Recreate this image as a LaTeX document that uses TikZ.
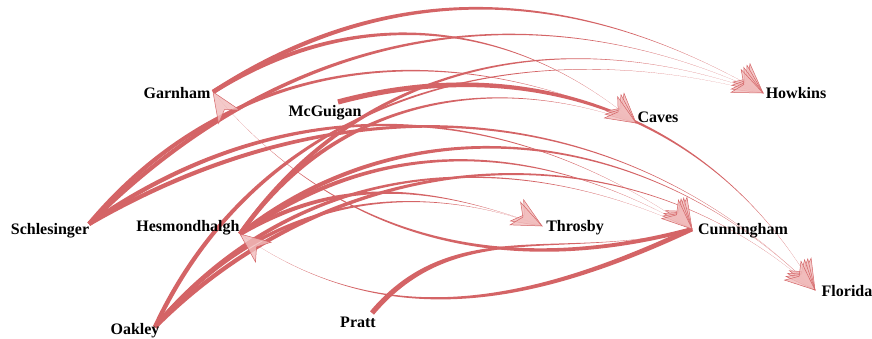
\documentclass[tikz,border=0pt]{standalone}
\usepackage{fontspec}
\setmainfont{Liberation Serif}
\usetikzlibrary{calc}
\definecolor{edgecol}{RGB}{212,100,102}
\definecolor{headfill}{RGB}{241,188,188}
\newcommand{\tedge}[5]{%
  \fill[edgest] ($(#1)+({#3+90}:#5)$) to[out=#3,in=#4] (#2) to[out=#4,in=#3] ($(#1)+({#3-90}:#5)$) -- cycle;}
\newcommand{\thead}[2]{%
  \filldraw[headst] (#1) -- ($(#1)+({#2+23}:32)$) -- ($(#1)+(#2:21)$) -- ($(#1)+({#2-23}:32)$) -- cycle;}
\begin{document}
\begin{tikzpicture}[x=1pt,y=1pt,
  edgest/.style={fill=edgecol},
  headst/.style={fill=headfill,draw=edgecol,line width=0.5pt,fill opacity=0.8,line join=miter},
  lbl/.style={font=\bfseries\fontsize{16}{16}\selectfont,inner sep=0pt,text=black}]
\useasboundingbox (0,0) rectangle (872,339);
% anchor points
\coordinate (G) at (213,247);
\coordinate (M) at (338,237);
\coordinate (H) at (763,246);
\coordinate (C) at (636,216);
\coordinate (S) at (89,115);
\coordinate (E) at (240,105);
\coordinate (T) at (542,113);
\coordinate (U) at (692,110);
\coordinate (F) at (815,49);
\coordinate (O) at (155,12);
\coordinate (P) at (372,26);
% edges
\tedge{G}{H}{33}{150}{2.2}
\tedge{G}{C}{32}{140}{2.2}
\tedge{S}{H}{45}{155}{2.2}
\tedge{S}{C}{50}{155}{2.2}
\tedge{S}{U}{35}{145}{2.2}
\tedge{S}{F}{30}{135}{2.2}
\tedge{E}{H}{55}{160}{2.2}
\tedge{E}{C}{55}{160}{2.2}
\tedge{E}{T}{30}{160}{2.2}
\tedge{E}{U}{35}{150}{2.2}
\tedge{E}{F}{38}{135}{2.2}
\tedge{O}{H}{65}{165}{2.2}
\tedge{O}{T}{50}{160}{2.2}
\tedge{O}{U}{50}{155}{2.2}
\tedge{O}{F}{45}{138}{2.2}
\tedge{M}{F}{15}{120}{2.6}
\tedge{P}{U}{50}{195}{2.6}
\tedge{U}{E}{205}{325}{2.4}
\tedge{U}{G}{195}{310}{2.0}
% arrowheads
\thead{H}{137}\thead{H}{143}\thead{H}{150}\thead{H}{156}
\thead{C}{135}\thead{C}{141}\thead{C}{148}
\thead{T}{148}\thead{T}{155}
\thead{U}{122}\thead{U}{128}\thead{U}{133}\thead{U}{138}
\thead{F}{120}\thead{F}{126}\thead{F}{132}\thead{F}{139}
\thead{E}{322}
\thead{G}{303}
% labels
\node[lbl] (Gl) at (177,246) {Garnham};
\node[lbl] (Ml) at (325,226) {McGuigan};
\node[lbl] (Hl) at (796,246) {Howkins};
\node[lbl] (Cl) at (658,222) {Caves};
\node[lbl] (Sl) at (50,108) {Schlesinger};
\node[lbl] (El) at (188,111) {Hesmondhalgh};
\node[lbl] (Tl) at (575,111) {Throsby};
\node[lbl] (Ul) at (743,108) {Cunningham};
\node[lbl] (Fl) at (847,48) {Florida};
\node[lbl] (Ol) at (135,8) {Oakley};
\node[lbl] (Pl) at (358,17) {Pratt};
\end{tikzpicture}
\end{document}
